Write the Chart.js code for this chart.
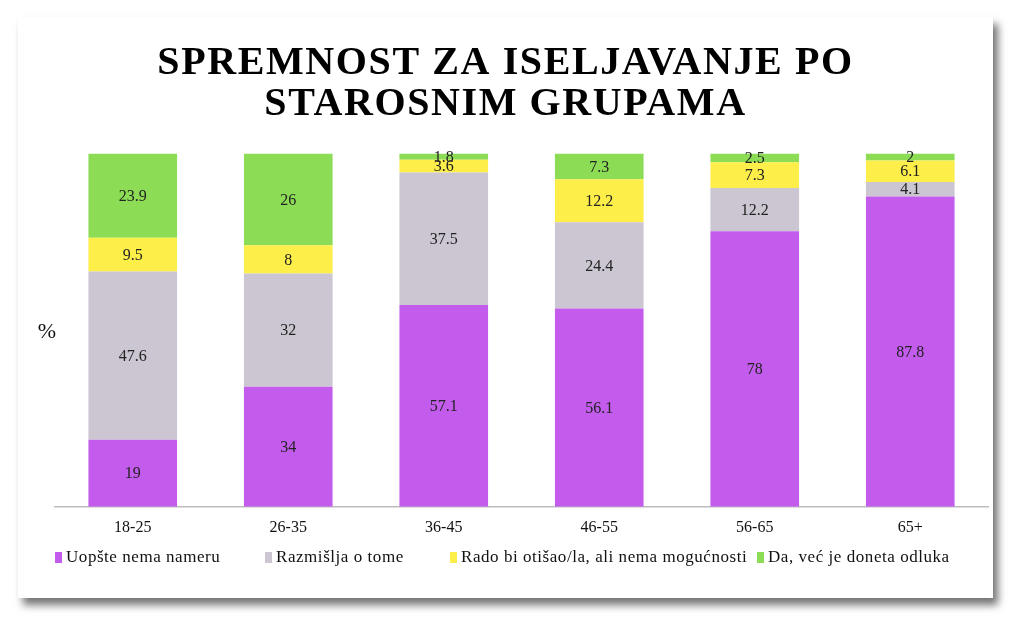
<!DOCTYPE html>
<html>
<head>
<meta charset="utf-8">
<script src="https://cdn.jsdelivr.net/npm/chart.js@4"></script>
<style>
    body { margin: 0; background: #fff; width: 1024px; height: 618px; overflow: hidden; }
    #card {
        position: absolute; left: 18px; top: 17px; width: 975px; height: 581px;
        background: #fff; box-shadow: 5px 7px 8px rgba(0,0,0,.55);
    }
    #card canvas { display: block; }
    #legend { position: absolute; left: 0; top: 0; font-family: 'Liberation Serif', serif; font-size: 17px; color: #111; letter-spacing: 0.55px; }
    .item { position: absolute; top: 530px; white-space: nowrap; line-height: 20px; }
    .item i { display: inline-block; width: 7px; height: 11px; margin-right: 4px; vertical-align: -1px; }
</style>
</head>
<body>
<div id="card">
    <canvas id="chart" width="975" height="581"></canvas>
    <div id="legend"></div>
</div>
<script>
/* Data */
const categories = ["18-25", "26-35", "36-45", "46-55", "56-65", "65+"];
const seriesNames = ["Uopšte nema nameru", "Razmišlja o tome", "Rado bi otišao/la, ali nema mogućnosti", "Da, već je doneta odluka"];
const noIntent = [19, 34, 57.1, 56.1, 78, 87.8];
const thinking = [47.6, 32, 37.5, 24.4, 12.2, 4.1];
const wouldLike = [9.5, 8, 3.6, 12.2, 7.3, 6.1];
const decided = [23.9, 26, 1.8, 7.3, 2.5, 2];
const colors = ["#c35cec", "#cbc6d1", "#fdee4a", "#8cdd55"];

const serif = "'Liberation Serif', 'DejaVu Serif', serif";

/* Legend (html, fixed columns like the original) */
const legendLeft = [37, 247, 432, 739];
const legend = document.getElementById("legend");
seriesNames.forEach((name, i) => {
    const d = document.createElement("div");
    d.className = "item";
    d.style.left = legendLeft[i] + "px";
    d.innerHTML = `<i style="background:${colors[i]}"></i>${name}`;
    legend.appendChild(d);
});

/* Wider lettering for the title only (the original font is wider) */
const spacing = {
    id: "spacing",
    beforeDraw(chart) { chart.ctx.letterSpacing = "1.6px"; },
    beforeDatasetsDraw(chart) { chart.ctx.letterSpacing = "0px"; }
};

/* Labels inside bar segments */
const valueLabels = {
    id: "valueLabels",
    afterDatasetsDraw(chart) {
        const c = chart.ctx;
        c.save();
        c.font = "16px " + serif;
        c.fillStyle = "#222";
        c.textAlign = "center";
        c.textBaseline = "middle";
        chart.data.datasets.forEach((ds, i) => {
            chart.getDatasetMeta(i).data.forEach((bar, j) => {
                const mid = (bar.y + bar.base) / 2;
                c.fillText(String(ds.data[j]), bar.x, mid + 1);
            });
        });
        // y axis "%" label
        c.font = "22px " + serif;
        c.fillStyle = "#111";
        c.fillText("%", 29, chart.chartArea.top + 179);
        c.restore();
    }
};

const ctx = document.getElementById("chart");

new Chart(ctx, {
    type: "bar",
    data: {
        labels: categories,
        datasets: [noIntent, thinking, wouldLike, decided].map((d, i) => ({
            label: seriesNames[i],
            data: d,
            backgroundColor: colors[i],
            borderWidth: 0,
            categoryPercentage: 0.57,
            barPercentage: 1
        }))
    },
    options: {
        responsive: false,
        animation: false,
        layout: { padding: { left: 5, right: 5, top: 16, bottom: 58 } },
        plugins: {
            title: {
                display: true,
                text: ["SPREMNOST ZA ISELJAVANJE PO", "STAROSNIM GRUPAMA"],
                color: "#000",
                font: { family: serif, size: 40, weight: "bold", lineHeight: 1.03 },
                padding: { top: 10, bottom: 28 }
            },
            legend: { display: false },
            tooltip: { enabled: false }
        },
        scales: {
            x: {
                stacked: true,
                grid: { display: false },
                border: { color: "#bdbdbd", width: 1.5 },
                ticks: { z: 1, color: "#111", font: { family: serif, size: 16 }, padding: 3 }
            },
            y: {
                stacked: true,
                min: 0,
                max: 100,
                grid: { display: false },
                border: { display: false },
                ticks: { display: false },
                afterFit(scale) { scale.width = 32; }
            }
        }
    },
    plugins: [spacing, valueLabels]
});
</script>
</body>
</html>
